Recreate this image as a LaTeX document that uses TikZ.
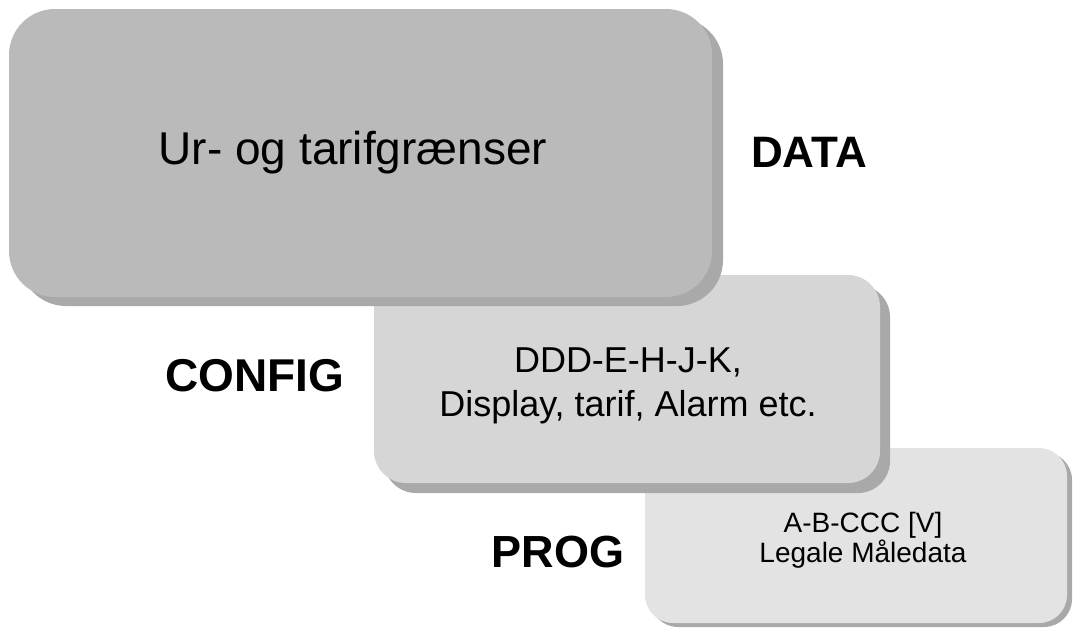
\documentclass[tikz,border=0pt]{standalone}
\usepackage{fontspec}
\setmainfont{Liberation Sans}
\usetikzlibrary{shadows}
\definecolor{boxA}{HTML}{BABABA}
\definecolor{boxB}{HTML}{D6D6D6}
\definecolor{boxC}{HTML}{E3E3E3}
\definecolor{shade}{HTML}{A9A9A9}
\begin{document}
\begin{tikzpicture}[x=1pt,y=-1pt,
  panel/.style={rectangle, inner sep=0pt, draw=none},
  txt/.style={inner sep=0pt, align=center},
  lbl/.style={font=\fontsize{44}{50}\selectfont\bfseries, inner sep=0pt, anchor=base},
]
\useasboundingbox (0,0) rectangle (1076,627);
% bottom panel
\node[panel, fill=boxC, minimum width=422pt, minimum height=175pt, rounded corners=28pt,
  drop shadow={shadow xshift=5pt, shadow yshift=-4pt, fill=shade, opacity=1}] (prog) at (856,535.5) {};
% middle panel
\node[panel, fill=boxB, minimum width=506pt, minimum height=208pt, rounded corners=32pt,
  drop shadow={shadow xshift=10pt, shadow yshift=-10pt, fill=shade, opacity=1}] (config) at (627,379) {};
% top panel
\node[panel, fill=boxA, minimum width=703pt, minimum height=288pt, rounded corners=46pt,
  drop shadow={shadow xshift=11pt, shadow yshift=-9pt, fill=shade, opacity=1}] (data) at (360.5,153) {};
% texts in panels
\node[txt, font=\fontsize{46}{52}\selectfont] (datatxt) at (353,153) {Ur- og tarifgrænser};
\node[txt, font=\fontsize{36}{44}\selectfont] (configtxt) at (628,386) {DDD-E-H-J-K,\\Display, tarif, Alarm etc.};
\node[txt, font=\fontsize{28}{30}\selectfont] (progtxt) at (863,540.5) {A-B-CCC [V]\\Legale Måledata};
% side labels
\node[lbl] (datalbl) at (809,167) {DATA};
\node[lbl, font=\fontsize{46}{50}\selectfont\bfseries] (configlbl) at (255,391) {CONFIG};
\node[lbl, font=\fontsize{45}{50}\selectfont\bfseries] (proglbl) at (558,567) {PROG};
\end{tikzpicture}
\end{document}
